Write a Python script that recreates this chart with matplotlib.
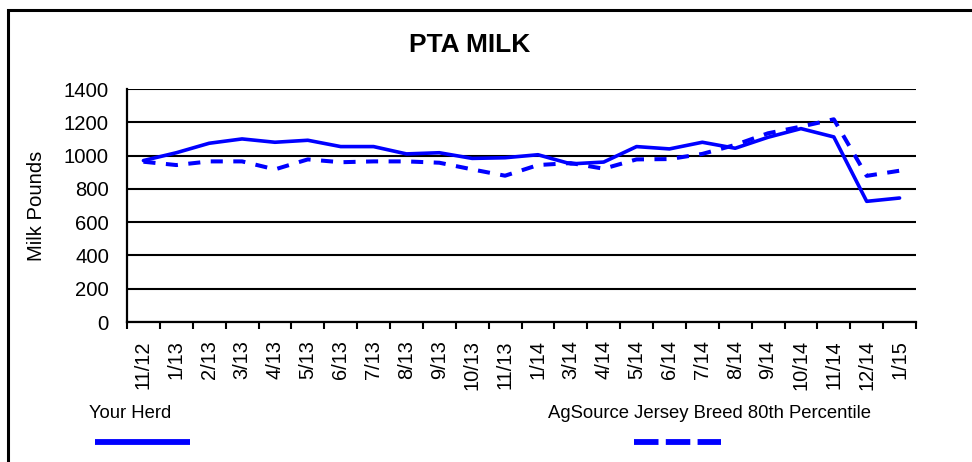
import matplotlib
matplotlib.use("Agg")
import matplotlib.pyplot as plt
from matplotlib.lines import Line2D
from matplotlib.patches import Rectangle

plt.rcParams["font.family"] = ["Liberation Sans", "DejaVu Sans"]

months = ["11/12", "1/13", "2/13", "3/13", "4/13", "5/13", "6/13", "7/13",
          "8/13", "9/13", "10/13", "11/13", "1/14", "3/14", "4/14", "5/14",
          "6/14", "7/14", "8/14", "9/14", "10/14", "11/14", "12/14", "1/15"]
your_herd = [970, 1017, 1074, 1100, 1080, 1092, 1054, 1054, 1010, 1017,
             983, 987, 1005, 950, 961, 1054, 1040, 1080, 1044, 1110,
             1162, 1112, 725, 745]
breed_80th = [963, 943, 965, 965, 917, 977, 960, 965, 965, 957,
              917, 879, 943, 955, 921, 977, 979, 1010, 1064, 1134,
              1174, 1218, 878, 909]

fig = plt.figure(figsize=(9.72, 4.62), dpi=100)
ax = fig.add_axes([127 / 972, 1 - 322 / 462, 789 / 972, 233 / 462])

xs = list(range(len(months)))
ax.plot(xs, your_herd, color="#0000ff", lw=2.6, solid_joinstyle="round",
        solid_capstyle="round")
ax.plot(xs, breed_80th, color="#0000ff", lw=2.9, dashes=(3.0, 2.6))

ax.set_xlim(-0.5, len(months) - 0.5)
ax.set_ylim(0, 1400)
ax.set_yticks(range(0, 1401, 200))
ax.set_xticks(xs)
ax.set_xticklabels(months, rotation=90)
ax.set_xticks([i - 0.5 for i in range(len(months) + 1)], minor=True)
ax.tick_params(axis="x", which="major", length=0, pad=13, labelsize=14.4)
ax.tick_params(axis="x", which="minor", length=5, width=1.5, direction="out")
ax.tick_params(axis="y", length=0, pad=13, labelsize=14.6)

ax.grid(axis="y", color="black", lw=1.5)
ax.set_axisbelow(True)
for side in ["top", "right"]:
  ax.spines[side].set_visible(False)
for side in ["left", "bottom"]:
  ax.spines[side].set_linewidth(1.6)
  ax.spines[side].set_zorder(3)

ax.set_ylabel("Milk Pounds", fontsize=14.6)
ax.yaxis.set_label_coords(-0.103, 0.5)

fig.text(470 / 972, 1 - 45 / 462, "PTA MILK", fontsize=19, fontweight="bold",
         ha="center", va="center")

# legend: name above a line sample
fig.text(89 / 972, 1 - 413 / 462, "Your Herd", fontsize=13.3, va="center")
fig.text(548 / 972, 1 - 413 / 462, "AgSource Jersey Breed 80th Percentile",
         fontsize=13.3, va="center")
fig.add_artist(Line2D([95 / 972, 190 / 972], [1 - 442 / 462, 1 - 442 / 462],
                      transform=fig.transFigure, color="#0000ff", lw=4.2,
                      solid_capstyle="butt"))
fig.add_artist(Line2D([634 / 972, 721 / 972], [1 - 442 / 462, 1 - 442 / 462],
                      transform=fig.transFigure, color="#0000ff", lw=4.2,
                      dashes=(4.2, 1.25), dash_capstyle="butt"))

# chart border (runs off the right and bottom edges)
fig.add_artist(Rectangle((8 / 972, -0.1), 1.2, 1.1 - 9.5 / 462,
                         transform=fig.transFigure, fill=False,
                         edgecolor="black", lw=2.2, clip_on=False))

fig.savefig("out.png", dpi=100)
